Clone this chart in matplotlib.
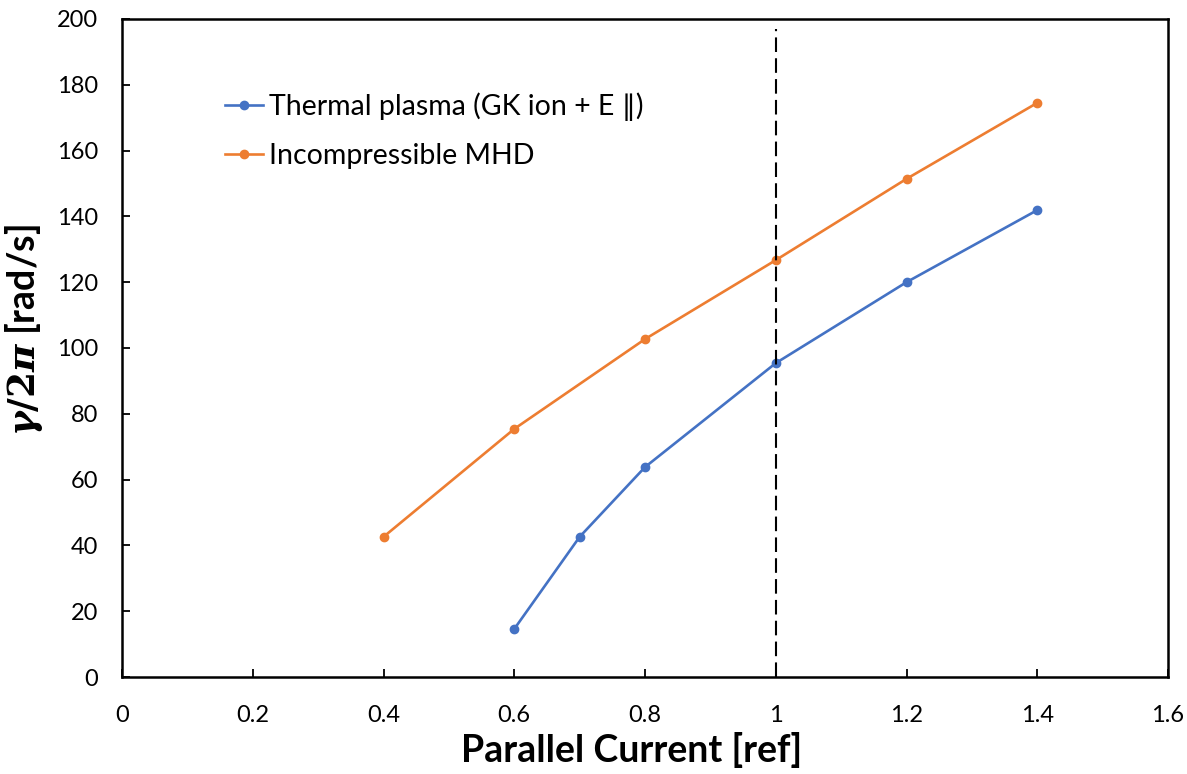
import matplotlib.pyplot as plt

# data
current_thermal = [0.6, 0.7, 0.8, 1.0, 1.2, 1.4]
gamma_thermal = [14.6, 42.6, 63.8, 95.4, 120.0, 141.9]
current_mhd = [0.4, 0.6, 0.8, 1.0, 1.2, 1.4]
gamma_mhd = [42.6, 75.4, 102.7, 126.7, 151.4, 174.5]
ref_x = 1.0

plt.rcParams['font.family'] = ['Lato', 'DejaVu Sans']
plt.rcParams['mathtext.fontset'] = 'custom'
plt.rcParams['mathtext.it'] = 'DejaVu Serif:italic:bold'
plt.rcParams['mathtext.rm'] = 'DejaVu Serif:bold'

fig = plt.figure(figsize=(11.87, 7.74), dpi=100)
ax = fig.add_axes([0.1028, 0.1253, 0.8812, 0.8502])

ax.plot(current_thermal, gamma_thermal, color="#4472C4", lw=1.9, marker="o", ms=6,
        label="Thermal plasma (GK ion + E \u2225)")
ax.plot(current_mhd, gamma_mhd, color="#ED7D31", lw=1.9, marker="o", ms=6,
        label="Incompressible MHD")
ax.plot([ref_x, ref_x], [0, 197], color="black", lw=1.5, ls=(0, (7, 3)))

ax.set_xlim(0, 1.6)
ax.set_ylim(0, 200)
ax.set_xticks([0, 0.2, 0.4, 0.6, 0.8, 1, 1.2, 1.4, 1.6])
ax.set_xticklabels(["0", "0.2", "0.4", "0.6", "0.8", "1", "1.2", "1.4", "1.6"])
ax.set_yticks(range(0, 201, 20))

for s in ax.spines.values():
    s.set_linewidth(1.8)
ax.tick_params(axis="both", direction="in", length=6, width=1.3, labelsize=17)
ax.tick_params(axis="x", pad=20)
ax.tick_params(axis="y", pad=17)

ax.set_xlabel("Parallel Current [ref]", fontsize=27, fontweight="bold")
ax.set_ylabel(r"$\gamma/2\pi$ [rad/s]", fontsize=27, fontweight="bold")
ax.xaxis.set_label_coords(0.487, -0.083)
ax.yaxis.set_label_coords(-0.074, 0.527)

ax.legend(loc="upper left", bbox_to_anchor=(0.074, 0.927), frameon=False, fontsize=20.5,
          handlelength=1.35, handletextpad=0.2, labelspacing=0.75)

fig.savefig("out.png", dpi=100)
